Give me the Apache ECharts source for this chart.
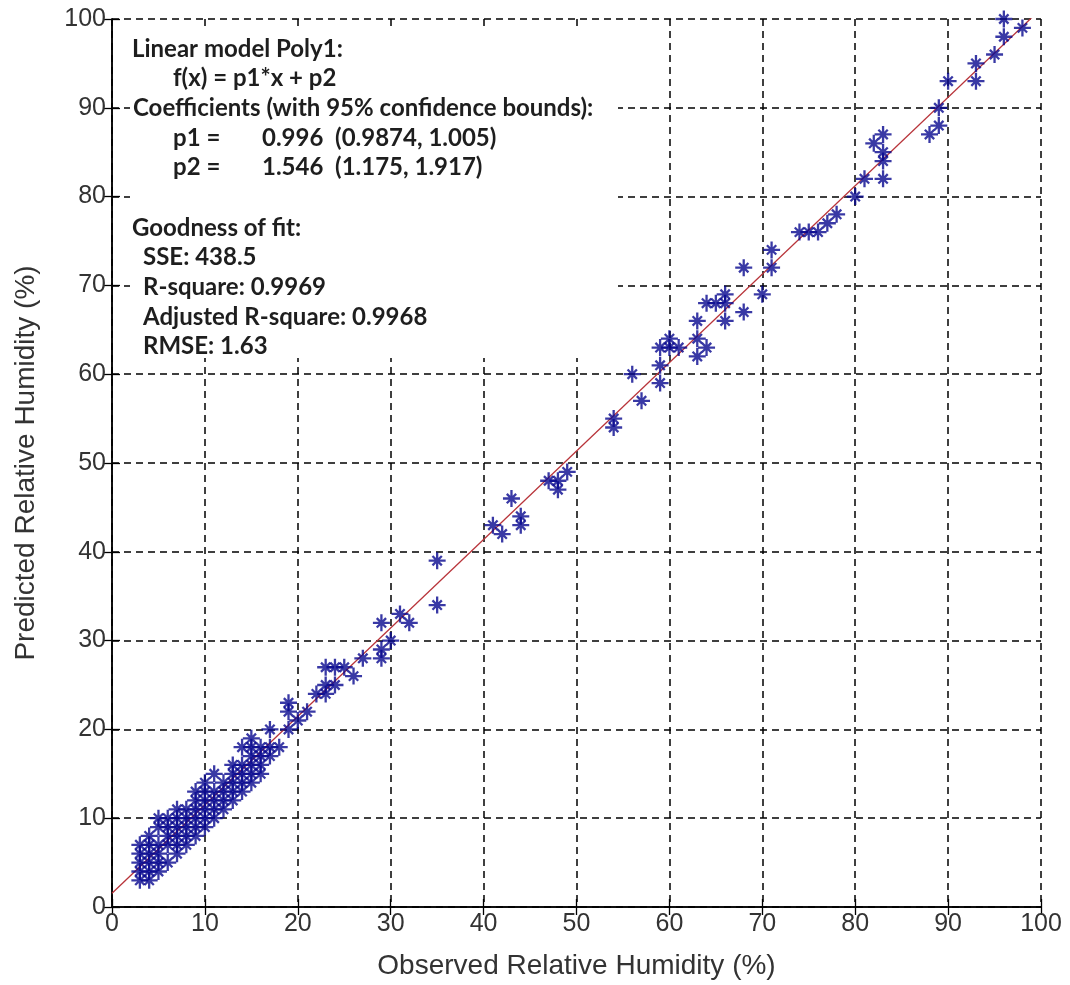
<!DOCTYPE html>
<html>
<head>
<meta charset="utf-8">
<script src="https://cdn.jsdelivr.net/npm/echarts@6/dist/echarts.min.js"></script>
<style>
  html, body { margin: 0; padding: 0; background: #fff; }
  #chart { width: 1070px; height: 985px; }
</style>
</head>
<body>
<div id="chart"></div>
<script>
// Observed vs predicted relative humidity (%)
const observed = [
  3, 3, 3, 3, 3,
  4, 4, 4, 4, 4, 4,
  5, 5, 5, 5, 5, 5,
  6, 6, 6, 6, 6,
  7, 7, 7, 7, 7, 7,
  8, 8, 8, 8, 8,
  9, 9, 9, 9, 9, 9,
  10, 10, 10, 10, 10, 10,
  11, 11, 11, 11, 11,
  12, 12, 12, 12,
  13, 13, 13, 13, 13,
  14, 14, 14, 14, 14,
  15, 15, 15, 15, 15, 15,
  16, 16, 16, 16,
  17, 17, 17,
  18,
  19, 19, 19,
  20, 21, 22, 23, 23, 23, 24, 24, 25, 26, 27,
  29, 29, 29, 30, 31, 32, 35, 35,
  41, 42, 43, 44, 44, 47, 48, 48, 49,
  54, 54, 56, 57, 59, 59, 59, 60, 60, 61,
  63, 63, 63, 64, 64, 65, 66, 66, 66, 68, 68, 70, 71, 71,
  74, 75, 76, 77, 78, 80, 81, 82, 83, 83, 83, 83,
  88, 89, 89, 90, 93, 93, 95, 96, 96, 98
];
const predicted = [
  3, 4, 5, 6, 7,
  3, 4, 5, 6, 7, 8,
  4, 5, 6, 7, 9, 10,
  5, 7, 8, 9, 10,
  6, 7, 8, 9, 10, 11,
  7, 8, 9, 10, 11,
  8, 9, 10, 11, 12, 13,
  9, 10, 11, 12, 13, 14,
  10, 11, 12, 13, 15,
  11, 12, 13, 14,
  12, 13, 14, 15, 16,
  13, 14, 15, 16, 18,
  14, 15, 16, 17, 18, 19,
  15, 16, 17, 18,
  17, 18, 20,
  18,
  20, 22, 23,
  21, 22, 24, 24, 25, 27, 25, 27, 27, 26, 28,
  28, 29, 32, 30, 33, 32, 34, 39,
  43, 42, 46, 43, 44, 48, 47, 48, 49,
  54, 55, 60, 57, 59, 61, 63, 63, 64, 63,
  62, 64, 66, 63, 68, 68, 66, 68, 69, 67, 72, 69, 72, 74,
  76, 76, 76, 77, 78, 80, 82, 86, 82, 84, 85, 87,
  87, 88, 90, 93, 93, 95, 96, 98, 100, 99
];

// Fitted linear model f(x) = p1*x + p2
const p1 = 0.996;
const p2 = 1.546;
const fitRange = [0, 100];

const axisTicks = [0, 10, 20, 30, 40, 50, 60, 70, 80, 90, 100];

// Fit summary text
const modelTitle = 'Linear model Poly1:';
const modelFormula = 'f(x) = p1*x + p2';
const coefTitle = 'Coefficients (with 95% confidence bounds):';
const coefNames = ['p1 =', 'p2 ='];
const coefValues = ['0.996  (0.9874, 1.005)', '1.546  (1.175, 1.917)'];
const gofTitle = 'Goodness of fit:';
const gofLines = ['SSE: 438.5', 'R-square: 0.9969', 'Adjusted R-square: 0.9968', 'RMSE: 1.63'];

const points = observed.map((x, i) => [x, predicted[i]]);
const fitLine = fitRange.map(x => [x, p1 * x + p2]);

const tickFont = "'Liberation Sans', Arial, sans-serif";
const noteFont = "Lato, 'Noto Sans', sans-serif";
const asterisk = 'path://M10,0 L10,20 M0,10 L20,10 M4.5,4.5 L15.5,15.5 M4.5,15.5 L15.5,4.5';

const gridLeft = 112, gridTop = 19;
const lineStep = 29.6;

function noteText(str, x, y) {
  return {
    type: 'text', z: 10,
    style: { text: str, x: x, y: y, fill: '#1e1e1e', font: 'bold 24px ' + noteFont, textVerticalAlign: 'middle' }
  };
}

const noteElems = [
  { type: 'rect', z: 5, shape: { x: 130, y: 28, width: 488, height: 330 }, style: { fill: '#ffffff' } },
  noteText(modelTitle, 132, 49),
  noteText(modelFormula, 173, 49 + lineStep),
  noteText(coefTitle, 133, 49 + 2 * lineStep)
];
coefNames.forEach((n, i) => {
  noteElems.push(noteText(n, 173, 49 + (3 + i) * lineStep));
  noteElems.push(noteText(coefValues[i], 262, 49 + (3 + i) * lineStep));
});
noteElems.push(noteText(gofTitle, 132, 228));
gofLines.forEach((s, i) => noteElems.push(noteText(s, 143, 228 + (i + 1) * lineStep)));

const valueAxisBase = {
  type: 'value', min: 0, max: 100, interval: 10,
  axisLine: { show: true, lineStyle: { color: '#000', width: 1.5 } },
  axisTick: { show: true, inside: true, length: 8, lineStyle: { color: '#000', width: 1.3 } },
  splitLine: { show: false }
};

const chart = echarts.init(document.getElementById('chart'));
chart.setOption({
  backgroundColor: '#ffffff',
  animation: false,
  grid: { left: gridLeft, right: 29, top: gridTop, bottom: 78, containLabel: false },
  xAxis: [
    Object.assign({}, valueAxisBase, {
      position: 'bottom',
      name: 'Observed Relative Humidity (%)',
      nameLocation: 'middle', nameGap: 45,
      nameTextStyle: { fontFamily: tickFont, fontSize: 28, color: '#333' },
      axisLabel: { show: true, margin: 5, fontFamily: tickFont, fontSize: 25, color: '#333',
        formatter: v => axisTicks.includes(v) ? String(v) : '' },
      splitLine: { show: true, lineStyle: { color: '#000', width: 1.5, type: [7, 5] } }
    }),
    Object.assign({}, valueAxisBase, { position: 'top', axisLabel: { show: false } })
  ],
  yAxis: [
    Object.assign({}, valueAxisBase, {
      position: 'left',
      name: 'Predicted Relative Humidity (%)',
      nameLocation: 'middle', nameGap: 72, nameRotate: 90,
      nameTextStyle: { fontFamily: tickFont, fontSize: 28, color: '#333' },
      axisLabel: { show: true, margin: 6, fontFamily: tickFont, fontSize: 25, color: '#333',
        formatter: v => axisTicks.includes(v) ? String(v) : '' },
      splitLine: { show: true, lineStyle: { color: '#000', width: 1.5, type: [7, 5] } }
    }),
    Object.assign({}, valueAxisBase, { position: 'right', axisLabel: { show: false } })
  ],
  series: [
    {
      name: 'Fit',
      type: 'line',
      data: fitLine,
      symbol: 'none',
      clip: true,
      z: 3,
      lineStyle: { color: '#b8343a', width: 1.3 }
    },
    {
      name: 'Data',
      type: 'scatter',
      data: points,
      symbol: asterisk,
      symbolSize: 17,
      z: 4,
      itemStyle: { color: 'rgba(0,0,0,0)', borderColor: '#08088e', borderWidth: 2.3 }
    }
  ],
  graphic: { elements: noteElems }
});
</script>
</body>
</html>
